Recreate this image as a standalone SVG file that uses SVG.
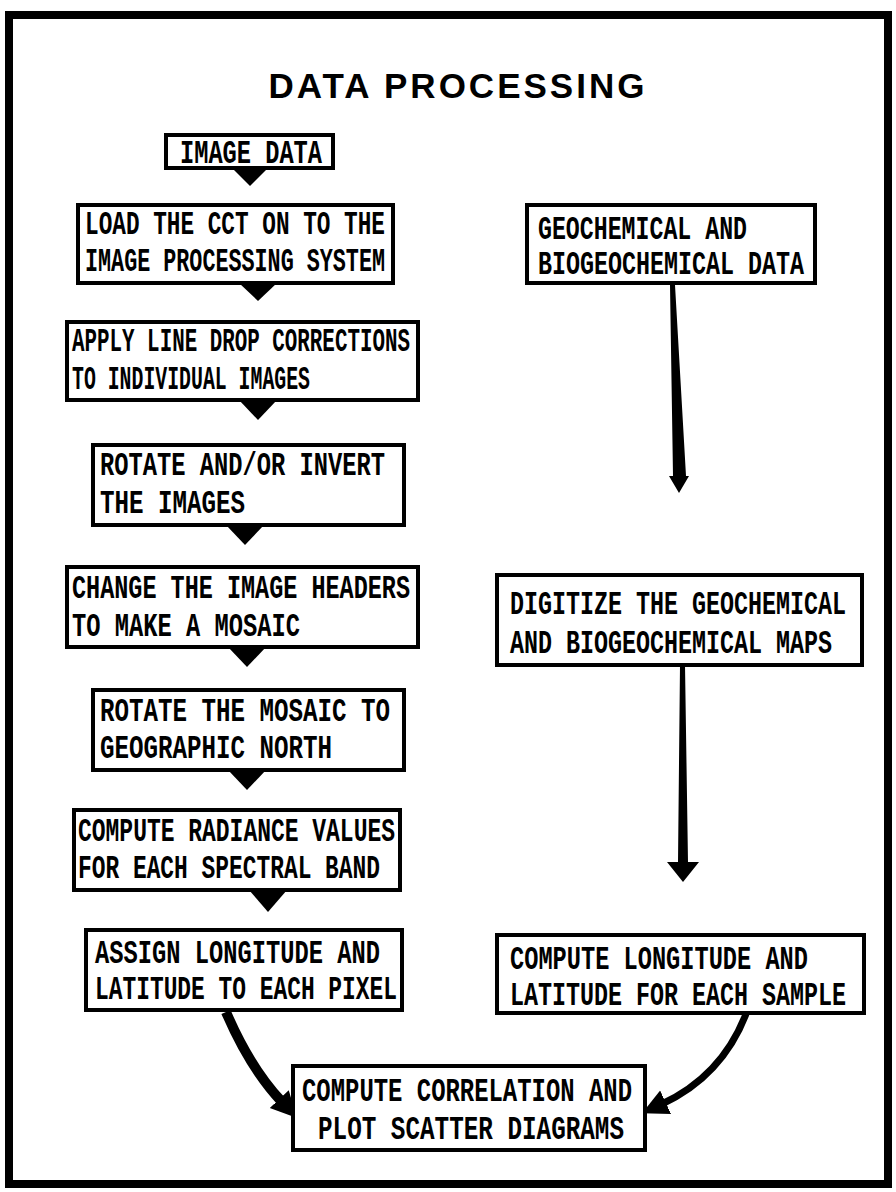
<svg xmlns="http://www.w3.org/2000/svg" width="896" height="1192" viewBox="0 0 896 1192">
<defs>
<style>
.box{fill:#fff;stroke:#000;stroke-width:4}
.t{font-family:"Liberation Mono","DejaVu Sans Mono",monospace;font-weight:bold;font-size:34px;fill:#000}
.tri{fill:#000}
.curve{fill:none;stroke:#000;stroke-linecap:butt}
</style>
<marker id="ah" markerUnits="userSpaceOnUse" markerWidth="30" markerHeight="30" refX="4" refY="15" orient="auto" viewBox="0 0 30 30">
<path d="M0,2 L26,15 L0,28 Z" fill="#000"/>
</marker>
</defs>
<rect x="0" y="0" width="896" height="1192" fill="#fff"/>
<rect x="9" y="15" width="879" height="1169" fill="none" stroke="#000" stroke-width="8"/>
<text x="458" y="98" text-anchor="middle" font-family="Liberation Sans, Arial, sans-serif" font-weight="bold" font-size="35" letter-spacing="3" fill="#000">DATA PROCESSING</text>

<g id="connectors">
<polygon class="tri" points="232,168 268,168 250,186"/>
<polygon class="tri" points="239,283 277,283 258,301"/>
<polygon class="tri" points="239,400 277,400 258,420"/>
<polygon class="tri" points="226,525 264,525 245,545"/>
<polygon class="tri" points="228,647 266,647 247,667"/>
<polygon class="tri" points="228,770 266,770 247,790"/>
<polygon class="tri" points="249,890 287,890 268,912"/>
<polygon class="tri" points="670,285 675,285 686,476 689,476 679,493 669,476 673,476"/>
<polygon class="tri" points="680,665 685,665 688,862 699,862 683,882 667,862 678,862"/>
<path class="curve" d="M226,1012 Q250,1068 282,1102" stroke-width="10" marker-end="url(#ah)"/>
<path class="curve" d="M746,1014 Q722,1076 662,1104" stroke-width="7" marker-end="url(#ah)"/>
</g>

<g id="n1"><rect class="box" x="166" y="135" width="167" height="33"/><text class="t" x="180" y="163" textLength="142" lengthAdjust="spacingAndGlyphs">IMAGE DATA</text></g>
<g id="n2"><rect class="box" x="78" y="205" width="315" height="78"/><text class="t" x="85" y="234" textLength="300" lengthAdjust="spacingAndGlyphs">LOAD THE CCT ON TO THE</text><text class="t" x="85" y="271" textLength="300" lengthAdjust="spacingAndGlyphs">IMAGE PROCESSING SYSTEM</text></g>
<g id="n3"><rect class="box" x="67" y="322" width="351" height="78"/><text class="t" x="72" y="351" textLength="338" lengthAdjust="spacingAndGlyphs">APPLY LINE DROP CORRECTIONS</text><text class="t" x="72" y="389" textLength="238" lengthAdjust="spacingAndGlyphs">TO INDIVIDUAL IMAGES</text></g>
<g id="n4"><rect class="box" x="93" y="445" width="311" height="80"/><text class="t" x="100" y="475" textLength="285" lengthAdjust="spacingAndGlyphs">ROTATE AND/OR INVERT</text><text class="t" x="100" y="513" textLength="145" lengthAdjust="spacingAndGlyphs">THE IMAGES</text></g>
<g id="n5"><rect class="box" x="67" y="567" width="351" height="80"/><text class="t" x="72" y="598" textLength="338" lengthAdjust="spacingAndGlyphs">CHANGE THE IMAGE HEADERS</text><text class="t" x="72" y="636" textLength="228" lengthAdjust="spacingAndGlyphs">TO MAKE A MOSAIC</text></g>
<g id="n6"><rect class="box" x="93" y="690" width="311" height="80"/><text class="t" x="100" y="721" textLength="290" lengthAdjust="spacingAndGlyphs">ROTATE THE MOSAIC TO</text><text class="t" x="100" y="758" textLength="232" lengthAdjust="spacingAndGlyphs">GEOGRAPHIC NORTH</text></g>
<g id="n7"><rect class="box" x="74" y="810" width="326" height="80"/><text class="t" x="78" y="841" textLength="317" lengthAdjust="spacingAndGlyphs">COMPUTE RADIANCE VALUES</text><text class="t" x="78" y="878" textLength="302" lengthAdjust="spacingAndGlyphs">FOR EACH SPECTRAL BAND</text></g>
<g id="n8"><rect class="box" x="86" y="930" width="316" height="80"/><text class="t" x="95" y="963" textLength="285" lengthAdjust="spacingAndGlyphs">ASSIGN LONGITUDE AND</text><text class="t" x="95" y="999" textLength="302" lengthAdjust="spacingAndGlyphs">LATITUDE TO EACH PIXEL</text></g>
<g id="n9"><rect class="box" x="527" y="205" width="288" height="78"/><text class="t" x="538" y="239" textLength="209" lengthAdjust="spacingAndGlyphs">GEOCHEMICAL AND</text><text class="t" x="538" y="274" textLength="266" lengthAdjust="spacingAndGlyphs">BIOGEOCHEMICAL DATA</text></g>
<g id="n10"><rect class="box" x="497" y="575" width="365" height="90"/><text class="t" x="510" y="614" textLength="336" lengthAdjust="spacingAndGlyphs">DIGITIZE THE GEOCHEMICAL</text><text class="t" x="510" y="653" textLength="322" lengthAdjust="spacingAndGlyphs">AND BIOGEOCHEMICAL MAPS</text></g>
<g id="n11"><rect class="box" x="497" y="935" width="367" height="78"/><text class="t" x="510" y="969" textLength="298" lengthAdjust="spacingAndGlyphs">COMPUTE LONGITUDE AND</text><text class="t" x="510" y="1005" textLength="336" lengthAdjust="spacingAndGlyphs">LATITUDE FOR EACH SAMPLE</text></g>
<g id="n12"><rect class="box" x="293" y="1066" width="352" height="84"/><text class="t" x="302" y="1101" textLength="330" lengthAdjust="spacingAndGlyphs">COMPUTE CORRELATION AND</text><text class="t" x="318" y="1139" textLength="306" lengthAdjust="spacingAndGlyphs">PLOT SCATTER DIAGRAMS</text></g>
</svg>
